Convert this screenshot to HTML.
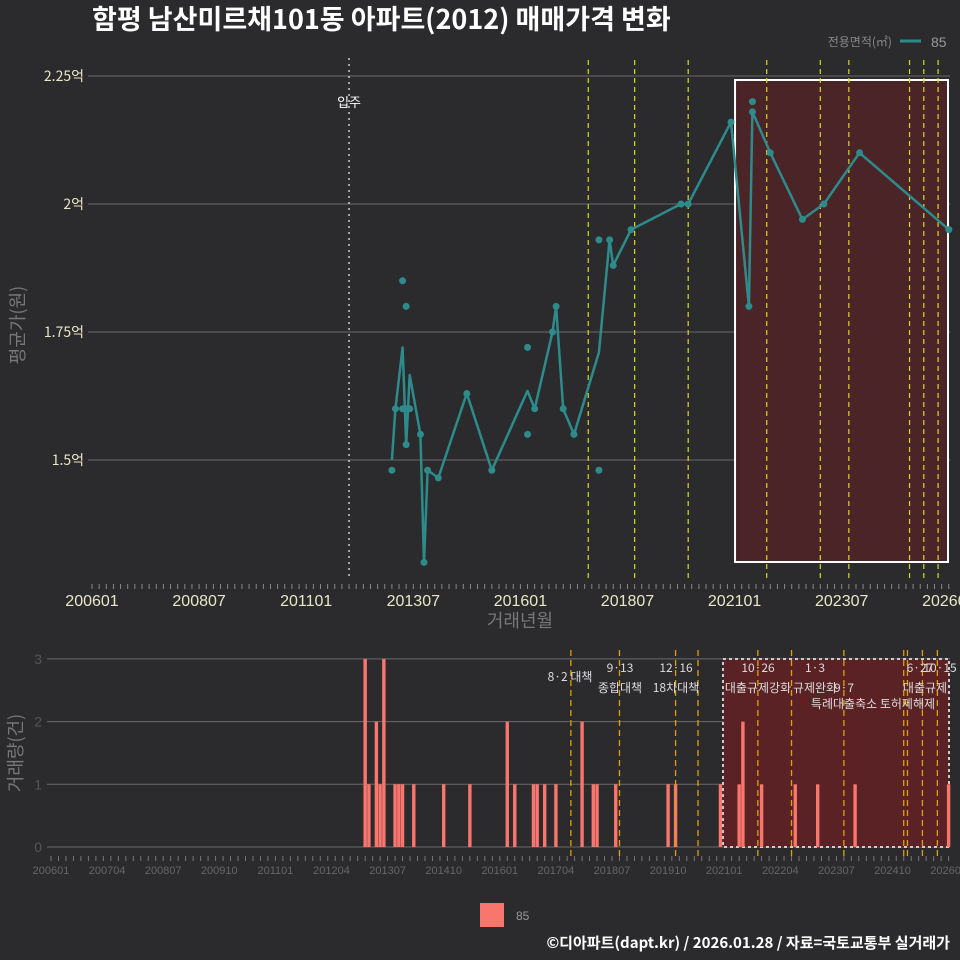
<!DOCTYPE html>
<html><head><meta charset="utf-8"><style>
html,body{margin:0;padding:0;background:#2b2b2d;}
svg{display:block;font-family:"Liberation Sans","Noto Sans CJK KR",sans-serif;}
</style></head><body>
<svg id="c" width="960" height="960" viewBox="0 0 960 960" xmlns="http://www.w3.org/2000/svg">
<rect width="960" height="960" fill="#2b2b2d"/>
<text x="92" y="29" font-size="27" font-weight="bold" fill="#ffffff" font-family="'Noto Sans CJK KR',sans-serif">함평 남산미르채101동 아파트(2012) 매매가격 변화</text>
<g>
<text x="892" y="46" font-size="12" fill="#888" text-anchor="end" font-family="'Noto Sans CJK KR',sans-serif">전용면적(㎡)</text>
<line x1="900" y1="41" x2="921" y2="41" stroke="#2e8b8b" stroke-width="3"/>
<text x="931" y="47" font-size="14" fill="#999">85</text>
</g>
<g id="gtop"></g>
<g id="gbot"></g>
<text x="24" y="325" font-size="18" fill="#777" text-anchor="middle" transform="rotate(-90 24 325)" font-family="'Noto Sans CJK KR',sans-serif">평균가(원)</text>
<text x="520" y="627" font-size="18" fill="#777" text-anchor="middle" font-family="'Noto Sans CJK KR',sans-serif">거래년월</text>
<text x="22" y="753" font-size="18" fill="#777" text-anchor="middle" transform="rotate(-90 22 753)" font-family="'Noto Sans CJK KR',sans-serif">거래량(건)</text>
<rect x="480" y="903" width="24" height="24" fill="#f8766d"/>
<text x="516" y="920" font-size="12" fill="#999">85</text>
<text x="950" y="948" font-size="15" font-weight="bold" fill="#fff" text-anchor="end" font-family="'Noto Sans CJK KR',sans-serif">©디아파트(dapt.kr) / 2026.01.28 / 자료=국토교통부 실거래가</text>
</svg>
<script>
const lineMonths=[201301,201302,201304,201305,201306,201309,201310,201311,201402,201410,201505,201603,201605,201610,201611,201701,201704,201711,201802,201803,201808,201910,201912,202012,202105,202106,202111,202208,202302,202312,202601];
const lineValues=[1.50,1.60,1.72,1.53,1.666,1.55,1.30,1.48,1.465,1.63,1.48,1.635,1.60,1.75,1.80,1.60,1.55,1.71,1.93,1.88,1.95,2.0,2.0,2.16,1.80,2.18,2.10,1.97,2.0,2.10,1.95];
const dotMonths=[201301,201302,201304,201304,201305,201305,201305,201306,201309,201310,201311,201402,201410,201505,201603,201603,201605,201610,201611,201701,201704,201711,201711,201802,201803,201808,201910,201912,202012,202105,202106,202106,202111,202208,202302,202312,202601];
const dotValues=[1.48,1.60,1.85,1.60,1.80,1.53,1.60,1.60,1.55,1.30,1.48,1.465,1.63,1.48,1.72,1.55,1.60,1.75,1.80,1.60,1.55,1.48,1.93,1.93,1.88,1.95,2.0,2.0,2.16,1.80,2.20,2.18,2.10,1.97,2.0,2.10,1.95];
const yTicks=[1.5,1.75,2.0,2.25];
const yTickLabels=["1.5억","1.75억","2억","2.25억"];
const xTicks=[200601,200807,201101,201307,201601,201807,202101,202307,202601];
const xTicksBottom=[200601,200704,200807,200910,201101,201204,201307,201410,201601,201704,201807,201910,202101,202204,202307,202410,202601];
const barMonths=[201301,201302,201304,201305,201306,201309,201310,201311,201402,201410,201505,201603,201605,201610,201611,201701,201704,201711,201802,201803,201808,201910,201912,202012,202105,202106,202111,202208,202302,202312,202601];
const barCounts=[3,1,2,1,3,1,1,1,1,1,1,2,1,1,1,1,1,2,1,1,1,1,1,1,1,2,1,1,1,1,1];
const vTicks=[0,1,2,3];
const policyMonths=[201708,201809,201912,202006,202110,202207,202309,202501,202502,202506,202510];
const policyTop=[201708,201809,201912,202110,202301,202309,202502,202506,202510];
const policyLabels=[["8·2 대책",570,681],["9·13",620,672],["종합대책",620,692],["12·16",676,672],["18차대책",676,692],["10·26",758,672],["대출규제강화",758,692],["1·3",815,672],["규제완화",815,692],["9·7",844,692],["특례대출축소 토허제해제",873,708],["6·27",920,672],["10·15",940,672],["대출규제",925,692]];

const NS="http://www.w3.org/2000/svg";
function mi(ym){return (Math.floor(ym/100)-2006)*12+(ym%100-1);}
function xT(ym){return 92+3.57*mi(ym);}
function yT(v){return 204+(2.0-v)*512;}
function xB(ym){return 51+3.74*mi(ym);}
function yB(c){return 847-c*62.7;}
function mk(p,tag,a){const e=document.createElementNS(NS,tag);for(const k in a)e.setAttribute(k,a[k]);p.appendChild(e);return e;}
const gTop=document.getElementById('gtop'),gBot=document.getElementById('gbot');

yTicks.forEach((v,i)=>{
 const g=mk(gTop,'line',{x1:88,x2:950,y1:yT(v),y2:yT(v),stroke:'#6a6a6a','stroke-width':1});
 
 
 const t=mk(gTop,'text',{x:84,y:yT(v)+5,'font-size':14,fill:'#e8e8c8','text-anchor':'end','font-family':"'Noto Sans CJK KR',sans-serif"});
 t.textContent=yTickLabels[i];
 
 
});
let r=mk(gTop,'rect',{x:xT(202012)+4,y:80,width:948-xT(202012)-4,height:482,fill:'#4a2426',stroke:'#fff','stroke-width':2});


for(let m=0;m<=240;m+=2){const x=92+3.57*m;const t=mk(gTop,'line',{x1:x,x2:x,y1:584,y2:589,stroke:'#888','stroke-width':1});

}
xTicks.forEach(ym=>{const t=mk(gTop,'text',{x:xT(ym),y:606,'font-size':16,fill:'#e8e8c8','text-anchor':'middle'});t.textContent=String(ym);

});
let mv=mk(gTop,'line',{x1:xT(201201),x2:xT(201201),y1:58,y2:580,stroke:'#ccc','stroke-width':1.5,'stroke-dasharray':'2,4'});


let mt=mk(gTop,'text',{x:xT(201201),y:107,'font-size':13,fill:'#fff','text-anchor':'middle','font-family':"'Noto Sans CJK KR',sans-serif"});mt.textContent='입주';


policyTop.forEach(ym=>{const l=mk(gTop,'line',{x1:xT(ym),x2:xT(ym),y1:60,y2:580,stroke:'#d8d820','stroke-width':1.2,'stroke-dasharray':'5,4'});

});
let d=lineMonths.map((m,i)=>(i?'L':'M')+xT(m).toFixed(1)+','+yT(lineValues[i]).toFixed(1)).join(' ');
let pl=mk(gTop,'path',{d:d,fill:'none',stroke:'#2e8b8b','stroke-width':2.5,'stroke-linejoin':'round'});


dotMonths.forEach((m,i)=>{const c=mk(gTop,'circle',{cx:xT(m),cy:yT(dotValues[i]),r:3.5,fill:'#2e8b8b'});

});

vTicks.forEach(v=>{const g=mk(gBot,'line',{x1:47,x2:950,y1:yB(v),y2:yB(v),stroke:'#6a6a6a','stroke-width':1});


const t=mk(gBot,'text',{x:42,y:yB(v)+5,'font-size':14,fill:'#555','text-anchor':'end'});t.textContent=v;

});
let rb=mk(gBot,'rect',{x:723,y:659,width:226,height:188,fill:'#5a2224',stroke:'#ccc','stroke-width':2,'stroke-dasharray':'3,3'});


for(let m=0;m<=240;m+=2){const x=51+3.74*m;const t=mk(gBot,'line',{x1:x,x2:x,y1:856,y2:861,stroke:'#777','stroke-width':1});

}
xTicksBottom.forEach(ym=>{const t=mk(gBot,'text',{x:xB(ym),y:874,'font-size':11,fill:'#666','text-anchor':'middle'});t.textContent=String(ym);

});
barMonths.forEach((m,i)=>{const b=mk(gBot,'rect',{x:xB(m)-1.7,y:yB(barCounts[i]),width:3.4,height:847-yB(barCounts[i]),fill:'#f8766d'});

});
policyMonths.forEach(ym=>{const l=mk(gBot,'line',{x1:xB(ym),x2:xB(ym),y1:650,y2:858,stroke:'#e0a000','stroke-width':1.3,'stroke-dasharray':'6,4'});

});
policyLabels.forEach(p=>{const t=mk(gBot,'text',{x:p[1],y:p[2],'font-size':12,fill:'#ddd','text-anchor':'middle','font-family':"'Noto Sans CJK KR',sans-serif"});t.textContent=p[0];

});
</script>
</body></html>
